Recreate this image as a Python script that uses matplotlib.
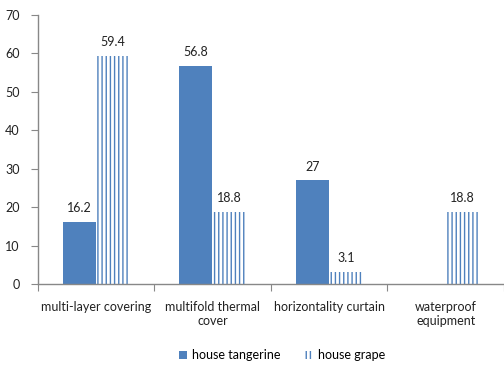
import matplotlib
matplotlib.use("Agg")
import matplotlib.pyplot as plt
import numpy as np

categories = ["multi-layer covering", "multifold thermal\ncover",
              "horizontality curtain", "waterproof\nequipment"]
tangerine = [16.2, 56.8, 27, None]
grape = [59.4, 18.8, 3.1, 18.8]
series_names = ["house tangerine", "house grape"]
yticks = [0, 10, 20, 30, 40, 50, 60, 70]

blue = "#4F81BD"
plt.rcParams["font.family"] = ["Lato", "DejaVu Sans"]
plt.rcParams["hatch.linewidth"] = 1.0

fig = plt.figure(figsize=(5.04, 3.65), dpi=100)
ax = fig.add_axes([0.075, 0.222, 0.925, 0.737])

x = np.arange(len(categories)) + 0.5
w = 0.285
off = 0.145

t_vals = [v if v is not None else 0 for v in tangerine]
b1 = ax.bar(x - off, t_vals, w, color=blue, edgecolor=blue, linewidth=0,
            label=series_names[0])
b2 = ax.bar(x + off, grape, w, facecolor="white", edgecolor=blue,
            hatch="||||", linewidth=0, label=series_names[1])

for xi, v in zip(x - off, tangerine):
    if v is not None:
        ax.text(xi, v + 2, f"{v:g}", ha="center", va="bottom", fontsize=9,
                color="#222222")
for xi, v in zip(x + off, grape):
    ax.text(xi, v + 2, f"{v:g}", ha="center", va="bottom", fontsize=9,
            color="#222222")

ax.set_xlim(0, 4)
ax.set_ylim(0, 70)
ax.set_yticks(yticks)
ax.set_xticks([0, 1, 2, 3, 4])
ax.set_xticklabels([])
ax.set_xticks(x, minor=True)
ax.set_xticklabels(categories, minor=True, fontsize=9, color="#222222")
ax.tick_params(axis="x", which="minor", length=0, pad=12)
ax.tick_params(axis="x", which="major", length=5, color="#888888",
               direction="out")
ax.tick_params(axis="y", length=5, color="#888888", labelsize=9,
               labelcolor="#222222", pad=8)

for s in ["top", "right"]:
    ax.spines[s].set_visible(False)
for s in ["left", "bottom"]:
    ax.spines[s].set_color("#888888")
    ax.spines[s].set_linewidth(1)

leg = fig.legend(handles=[b1, b2], labels=series_names, loc="center",
                 bbox_to_anchor=(0.56, 0.027), ncol=2, frameon=False,
                 fontsize=9, handlelength=0.6, handleheight=0.6,
                 handletextpad=0.4, columnspacing=2.0)

fig.savefig("out.png", dpi=100)
